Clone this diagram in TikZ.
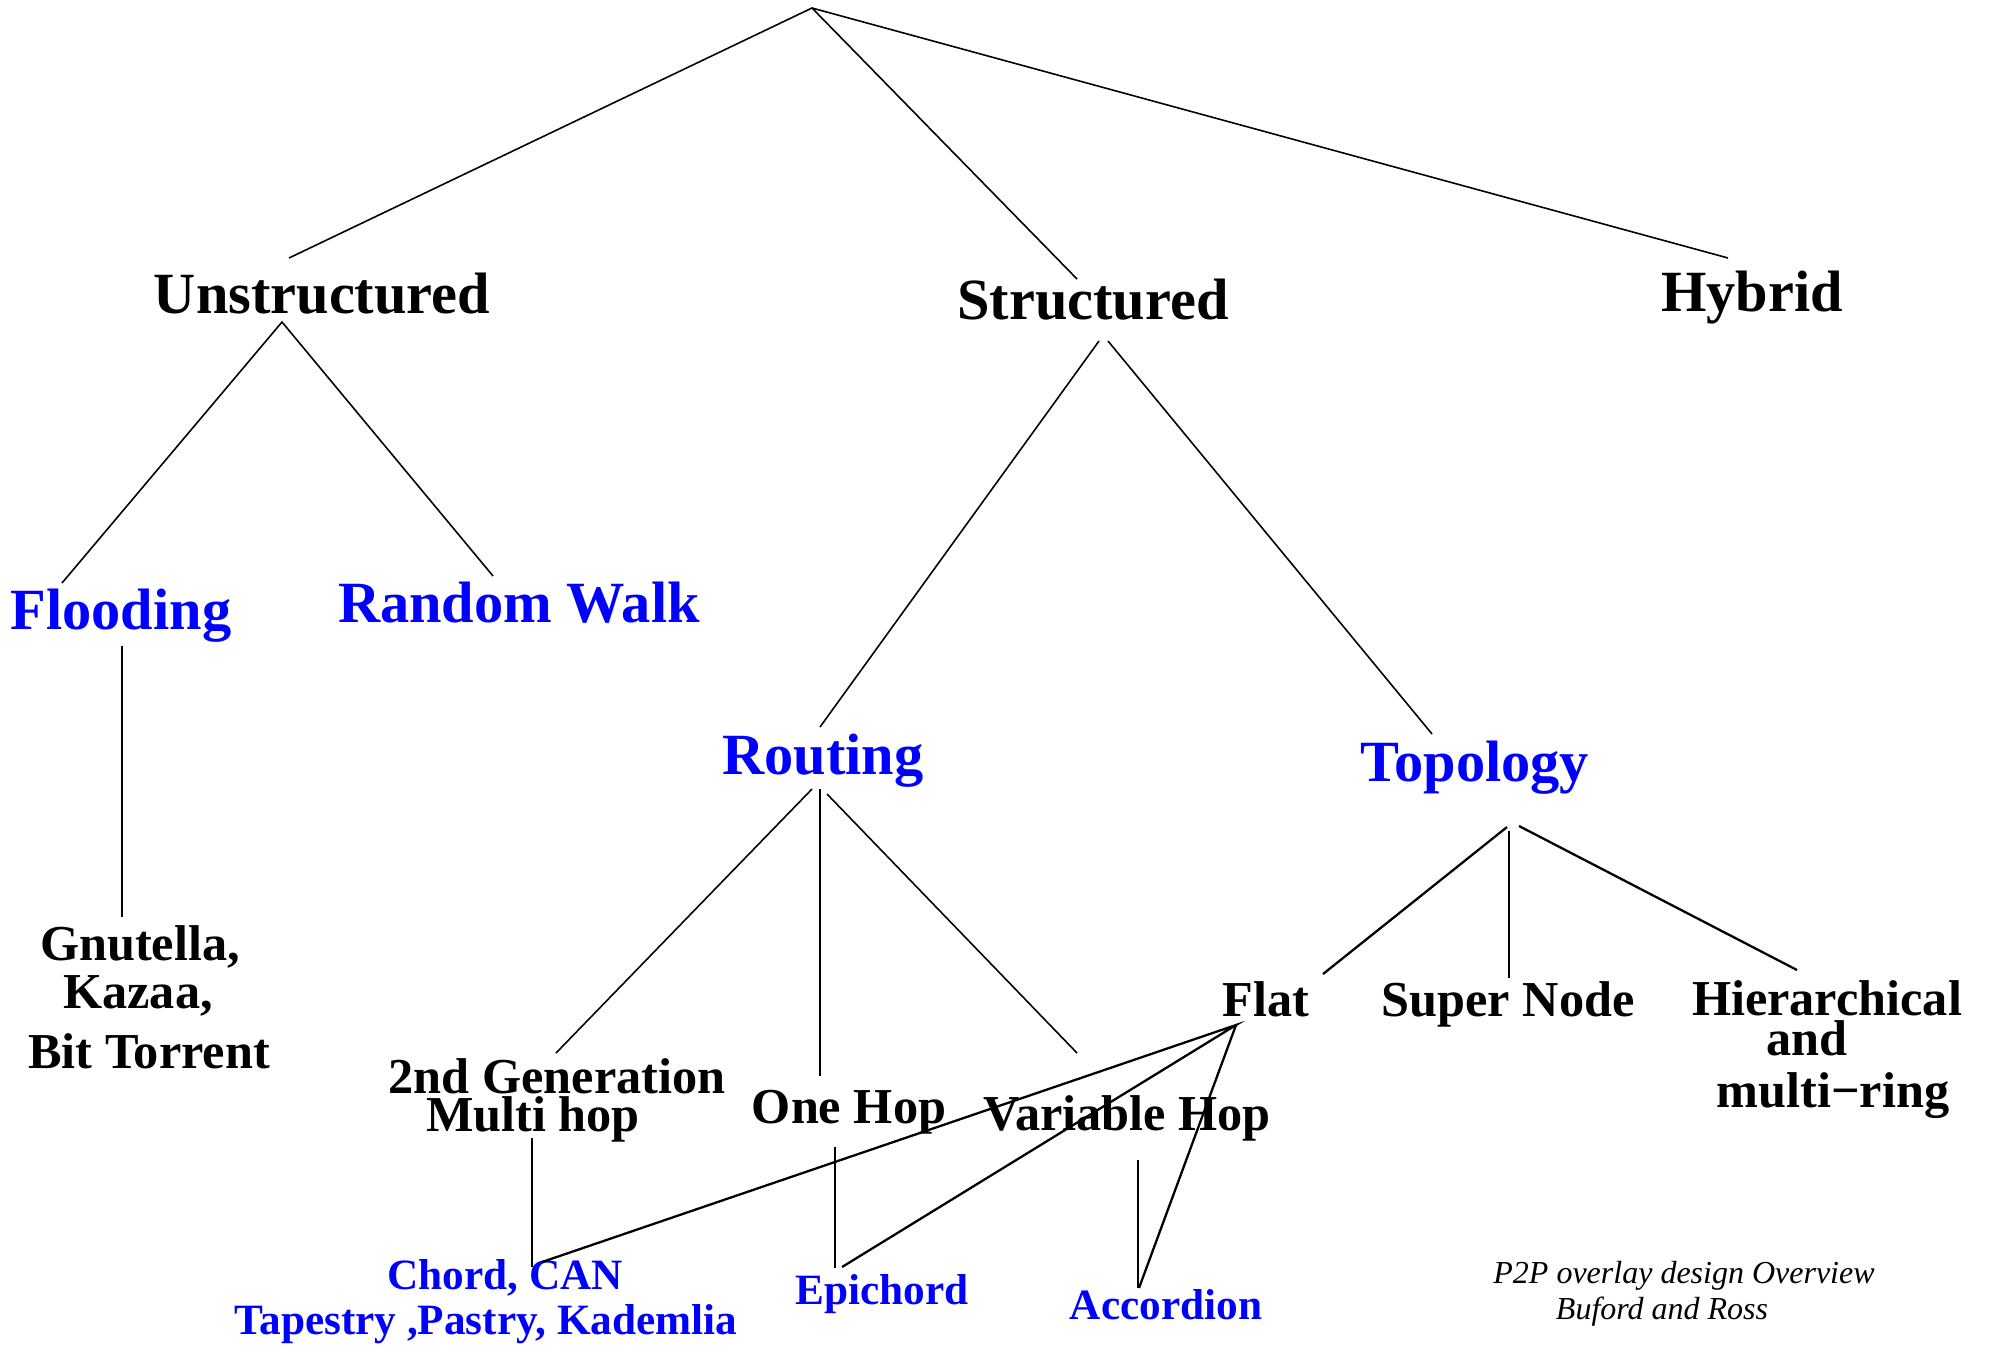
\documentclass[tikz,border=0pt]{standalone}
\usepackage{fontspec}
\setmainfont{Liberation Serif}
\definecolor{labelblue}{RGB}{0,0,255}
\tikzset{
  lbl/.style={anchor=base, inner sep=0pt, outer sep=0pt},
  big/.style={lbl, font=\fontsize{16.6}{18}\selectfont\bfseries},
  mid/.style={lbl, font=\fontsize{14.3}{16}\selectfont\bfseries},
  small/.style={lbl, font=\fontsize{12.3}{14}\selectfont\bfseries},
  note/.style={lbl, font=\fontsize{9.1}{11}\selectfont\itshape},
  cat/.style={text=labelblue},
  link/.style={line width=0.45pt},
  heavylink/.style={line width=0.65pt},
}
\begin{document}
\begin{tikzpicture}[x=0.01cm, y=-0.01cm]
\useasboundingbox (0,0) rectangle (1989,1345);

% ---- labels ----
\node[big] (unstr) at (322,313) {Unstructured};
\node[big] (str)   at (1093,319) {Structured};
\node[big] (hyb)   at (1752,311) {Hybrid};

\node[big,cat] (flood) at (121,629) {Flooding};
\node[big,cat] (rwalk) at (519,622) {Random Walk};

\node[mid] (gnu) at (140,960) {Gnutella,};
\node[mid] (kaz) at (138,1008) {Kazaa,};
\node[mid] (bit) at (149,1068) {Bit Torrent};

\node[big,cat] (rout) at (823,774) {Routing};
\node[big,cat] (topo) at (1475,781) {Topology};

\node[mid] (gen2)   at (557,1093) {2nd Generation};
\node[mid] (multi)  at (533,1131) {Multi hop};
\node[mid] (onehop) at (849,1123) {One Hop};
\node[mid] (varhop) at (1127,1130) {Variable Hop};

\node[mid] (flat)     at (1266,1016) {Flat};
\node[mid] (super)    at (1508,1016) {Super Node};
\node[mid] (hier)     at (1827,1015) {Hierarchical};
\node[mid] (hierand)  at (1807,1055) {and};
\node[mid] (hierring) at (1833,1107) {multi−ring};

\node[small,cat] (chord)    at (505,1289) {Chord, CAN};
\node[small,cat] (tapestry) at (486,1334) {Tapestry ,Pastry, Kademlia};
\node[small,cat] (epi)      at (882,1304) {Epichord};
\node[small,cat] (acc)      at (1166,1319) {Accordion};

\node[note] (cap1) at (1684,1283) {P2P overlay design Overview};
\node[note] (cap2) at (1662,1319) {Buford and Ross};

% ---- connector end points ----
\coordinate (root) at (812,8);
\coordinate (unstrT) at (289,258);
\coordinate (strT)   at (1077,279);
\coordinate (hybT)   at (1728,258);

\coordinate (unstrB) at (282,322);
\coordinate (floodT) at (62,583);
\coordinate (rwalkT) at (493,576);

\coordinate (floodB) at (122,646);
\coordinate (gnuT)   at (122,917);

\coordinate (strBL)  at (1099,341);
\coordinate (strBR)  at (1108,341);
\coordinate (routT)  at (820,727);
\coordinate (topoT)  at (1432,734);

\coordinate (routBL) at (812,789);
\coordinate (routBM) at (820,789);
\coordinate (routBR) at (827,794);
\coordinate (gen2T)  at (556,1053);
\coordinate (oneT)   at (820,1076);
\coordinate (varT)   at (1077,1053);

\coordinate (topoBL) at (1507,827);
\coordinate (topoBM) at (1509,831);
\coordinate (topoBR) at (1519,826);
\coordinate (flatT)  at (1323,974);
\coordinate (superT) at (1509,978);
\coordinate (hierT)  at (1797,970);

\coordinate (multiB) at (532,1138);
\coordinate (chordT) at (532,1267);
\coordinate (oneB)   at (835,1147);
\coordinate (epiT)   at (835,1268);
\coordinate (varB)   at (1138,1160);
\coordinate (accT)   at (1138,1288);

\coordinate (flatB)  at (1236,1025);
\coordinate (chordR) at (542,1262);
\coordinate (epiR)   at (842,1267);
\coordinate (accR)   at (1139,1288);

% ---- tree ----
\draw[link] (unstrT) -- (root) -- (strT);
\draw[link] (root) -- (hybT);

\draw[link] (floodT) -- (unstrB) -- (rwalkT);
\draw[link] (floodB) -- (gnuT);

\draw[link] (strBL) -- (routT);
\draw[link] (strBR) -- (topoT);

\draw[link] (routBL) -- (gen2T);
\draw[link] (routBM) -- (oneT);
\draw[link] (routBR) -- (varT);

\draw[heavylink] (topoBL) -- (flatT);
\draw[heavylink] (topoBM) -- (superT);
\draw[heavylink] (topoBR) -- (hierT);

\draw[link] (multiB) -- (chordT);
\draw[link] (oneB) -- (epiT);
\draw[link] (varB) -- (accT);

\draw[heavylink] (chordR) -- (flatB) -- (epiR);
\draw[heavylink] (flatB) -- (accR);
\end{tikzpicture}
\end{document}
